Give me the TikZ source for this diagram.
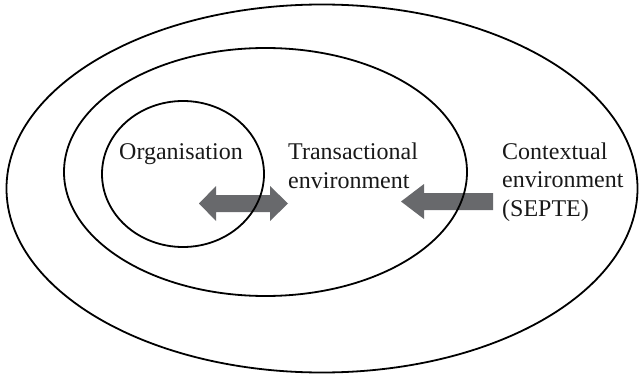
\documentclass[tikz,border=0pt]{standalone}
\usepackage{fontspec}
\setmainfont{Liberation Serif}
\begin{document}
\begin{tikzpicture}[x=1pt,y=-1pt,
  ring/.style={draw=black,line width=1.8pt},
  blockarrow/.style={fill=arrowgray,draw=none},
  label/.style={anchor=base west,inner sep=0pt,align=left,font=\fontsize{24}{28.5}\selectfont,text=black!90}]
\definecolor{arrowgray}{HTML}{68696C}
\useasboundingbox (0,0) rectangle (639,374);
% block arrows (drawn under the rings)
\coordinate (d1) at (199,203.5);
\coordinate (d2) at (288,203.5);
\fill[blockarrow] (d1) -- (216,186) -- (216,195) -- (270,195) -- (270,186) -- (d2)
  -- (270,221) -- (270,212) -- (216,212) -- (216,221) -- cycle;
\coordinate (s1) at (401,201.5);
\fill[blockarrow] (s1) -- (424,184) -- (424,193) -- (493,193) -- (493,210)
  -- (424,210) -- (424,219) -- cycle;
% rings
\draw[ring] (322,188.5) ellipse [x radius=315.5, y radius=184];
\draw[ring] (265.5,172) ellipse [x radius=201.5, y radius=124];
\draw[ring] (183,174) ellipse [x radius=81, y radius=73];
% labels (base anchor = baseline of last line)
\node[label] (org) at (119,160) {Organisation};
\node[label] (trans) at (288,188.5) {Transactional\\environment};
\node[label] (ctx) at (502,216) {Contextual\\environment\\(SEPTE)};
\end{tikzpicture}
\end{document}
